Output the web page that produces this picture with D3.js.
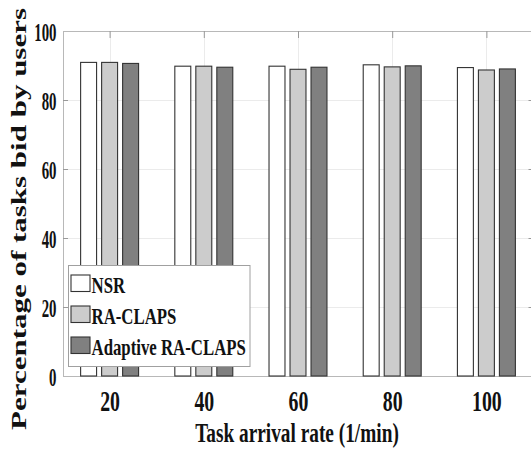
<!DOCTYPE html>
<html>
<head>
<meta charset="utf-8">
<script src="https://cdn.jsdelivr.net/npm/d3@7"></script>
<style>
  html, body { margin: 0; padding: 0; background: #fff; }
  svg { display: block; }
  text { font-family: "Liberation Serif", "Times New Roman", serif; font-weight: bold; fill: #111; }
</style>
</head>
<body>
<svg id="chart" width="531" height="456"></svg>
<script>
// Task arrival rates (1/min) on the x axis
const categories = [20, 40, 60, 80, 100];
// Methods compared in each group
const seriesNames = ["NSR", "RA-CLAPS", "Adaptive RA-CLAPS"];
// Percentage of tasks bid by users for each method
const nsrValues = [90.9, 89.8, 89.8, 90.2, 89.4];
const raClapsValues = [90.9, 89.8, 88.9, 89.6, 88.7];
const adaptiveValues = [90.6, 89.5, 89.5, 89.9, 89.0];
const yTicks = [0, 20, 40, 60, 80, 100];
const xTicks = categories;

const seriesValues = [nsrValues, raClapsValues, adaptiveValues];
const fills = ["#ffffff", "#cccccc", "#808080"];

const svg = d3.select("#chart");
const plot = { left: 63, right: 533.5, top: 31, bottom: 376 };

const x = d3.scaleLinear().domain([10, 110]).range([62.5, 533.5]);
const y = d3.scaleLinear().domain([0, 100]).range([plot.bottom, plot.top]);
const inner = d3.scaleBand().domain(seriesNames).range([-31.5, 31.5])
  .paddingInner(0.24).paddingOuter(0.12);

// grid
const grid = svg.append("g").attr("stroke", "#ebebeb").attr("stroke-width", 1);
grid.selectAll("line.gy").data(yTicks).join("line")
  .attr("x1", plot.left).attr("x2", plot.right)
  .attr("y1", d => Math.round(y(d)) + 0.5).attr("y2", d => Math.round(y(d)) + 0.5);
grid.selectAll("line.gx").data(xTicks).join("line")
  .attr("y1", plot.top).attr("y2", plot.bottom)
  .attr("x1", d => Math.round(x(d)) + 0.5).attr("x2", d => Math.round(x(d)) + 0.5);

// axes on all four sides, ticks pointing inward
function styleAxis(g) {
  g.select(".domain").attr("stroke", "#b8b8b8");
  g.selectAll(".tick line").attr("stroke", "#999");
}
const axL = svg.append("g").attr("transform", `translate(${plot.left},0)`)
  .call(d3.axisLeft(y).tickValues(yTicks).tickSize(-5).tickSizeOuter(0));
const axR = svg.append("g").attr("transform", `translate(${plot.right},0)`)
  .call(d3.axisRight(y).tickValues(yTicks).tickSize(-5).tickSizeOuter(0).tickFormat(""));
const axT = svg.append("g").attr("transform", `translate(0,${plot.top})`)
  .call(d3.axisTop(x).tickValues(xTicks).tickSize(-7).tickSizeOuter(0).tickFormat(""));
const axB = svg.append("g").attr("transform", `translate(0,${plot.bottom})`)
  .call(d3.axisBottom(x).tickValues(xTicks).tickSize(-7).tickSizeOuter(0));
[axL, axR, axT, axB].forEach(styleAxis);

// condensed tick labels
axL.selectAll(".tick text")
  .attr("x", null).attr("dy", null)
  .attr("text-anchor", "end")
  .attr("transform", "translate(-6.5,9) scale(0.57,1)")
  .style("font-size", "26px").style("font-family", "Liberation Serif").style("font-weight", "bold");
axB.selectAll(".tick text")
  .attr("y", null).attr("dy", null)
  .attr("text-anchor", "middle")
  .attr("transform", "translate(0,35) scale(0.66,1)")
  .style("font-size", "30px").style("font-family", "Liberation Serif").style("font-weight", "bold");

// bars
const groups = svg.append("g").selectAll("g").data(categories).join("g")
  .attr("transform", d => `translate(${x(d)},0)`);
groups.selectAll("rect")
  .data((d, i) => seriesNames.map((s, k) => ({ s, k, v: seriesValues[k][i] })))
  .join("rect")
  .attr("x", d => inner(d.s))
  .attr("width", inner.bandwidth())
  .attr("y", d => y(d.v))
  .attr("height", d => y(0) - y(d.v))
  .attr("fill", d => fills[d.k])
  .attr("stroke", "#333")
  .attr("stroke-width", 1.1);

// legend
const legend = svg.append("g");
legend.append("rect")
  .attr("x", 68.5).attr("y", 265.5).attr("width", 181.5).attr("height", 101)
  .attr("fill", "#fff").attr("stroke", "#a0a0a0").attr("stroke-width", 1);
const rows = legend.selectAll("g.row").data(seriesNames).join("g")
  .attr("transform", (d, i) => `translate(71,${275 + i * 31})`);
rows.append("rect")
  .attr("width", 19).attr("height", 16.5)
  .attr("fill", (d, i) => fills[i]).attr("stroke", "#333").attr("stroke-width", 1.1);
rows.append("text")
  .attr("transform", "translate(20.5,17.5) scale(0.7,1)")
  .style("font-size", "24px")
  .text(d => d);

// axis titles
svg.append("text")
  .attr("text-anchor", "middle")
  .attr("transform", "translate(297,442) scale(0.69,1)")
  .style("font-size", "28px")
  .text("Task arrival rate (1/min)");
svg.append("text")
  .attr("text-anchor", "middle")
  .attr("transform", "translate(26,219) rotate(-90) scale(1,0.65)")
  .style("font-size", "31px")
  .text("Percentage of tasks bid by users");
</script>
</body>
</html>
